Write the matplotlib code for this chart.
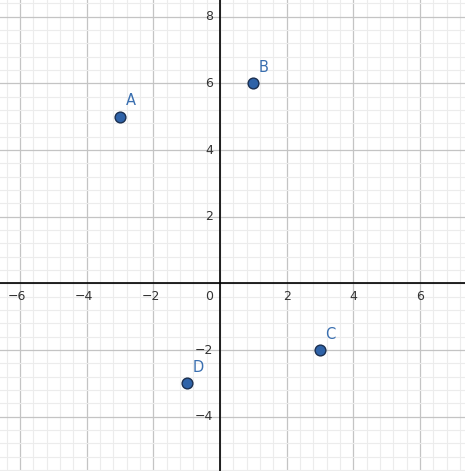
import numpy as np
import matplotlib.pyplot as plt
from matplotlib.ticker import MultipleLocator

# points
names = ["A", "B", "C", "D"]
xs = [-3, 1, 3, -1]
ys = [5, 6, -2, -3]

x_ticks = [-6, -4, -2, 2, 4, 6]
y_ticks = [-4, -2, 2, 4, 6, 8]

fig = plt.figure(figsize=(4.65, 4.71), dpi=100)
ax = fig.add_axes([0, 0, 1, 1])
ax.set_xlim(-6.6, 7.35)
ax.set_ylim(-5.63, 8.5)

# grid
ax.xaxis.set_major_locator(MultipleLocator(2))
ax.yaxis.set_major_locator(MultipleLocator(2))
ax.xaxis.set_minor_locator(MultipleLocator(0.4))
ax.yaxis.set_minor_locator(MultipleLocator(0.4))
ax.grid(which='minor', color='#ececec', linewidth=0.8)
ax.grid(which='major', color='#c4c4c4', linewidth=0.9)
ax.set_axisbelow(True)
ax.tick_params(which='both', length=0, labelbottom=False, labelleft=False)
for s in ax.spines.values():
    s.set_visible(False)

ax.axhline(0, color='black', linewidth=1.2, zorder=2)
ax.axvline(0, color='black', linewidth=1.2, zorder=2)

# tick labels drawn inside the plot
for t in x_ticks:
    ax.annotate(f"\u2212{abs(t)}" if t < 0 else str(t), (t, 0), xytext=(-2 if t < 0 else 0, -5),
                textcoords='offset points', ha='center', va='top', fontsize=9, color='#333333')
for t in y_ticks:
    ax.annotate(f"\u2212{abs(t)}" if t < 0 else str(t), (0, t), xytext=(-5, 0),
                textcoords='offset points', ha='right', va='center', fontsize=9, color='#333333')
ax.annotate("0", (0, 0), xytext=(-5, -5), textcoords='offset points',
            ha='right', va='top', fontsize=9, color='#333333')

ax.scatter(xs, ys, s=60, color='#2f63a8', edgecolors='#1a2f50', linewidths=1.0, zorder=3)
for n, x, y in zip(names, xs, ys):
    ax.annotate(n, (x, y), xytext=(4, 6), textcoords='offset points',
                fontsize=10.5, color='#3a6fb0', ha='left', va='bottom')

fig.savefig("out.png", dpi=100)
